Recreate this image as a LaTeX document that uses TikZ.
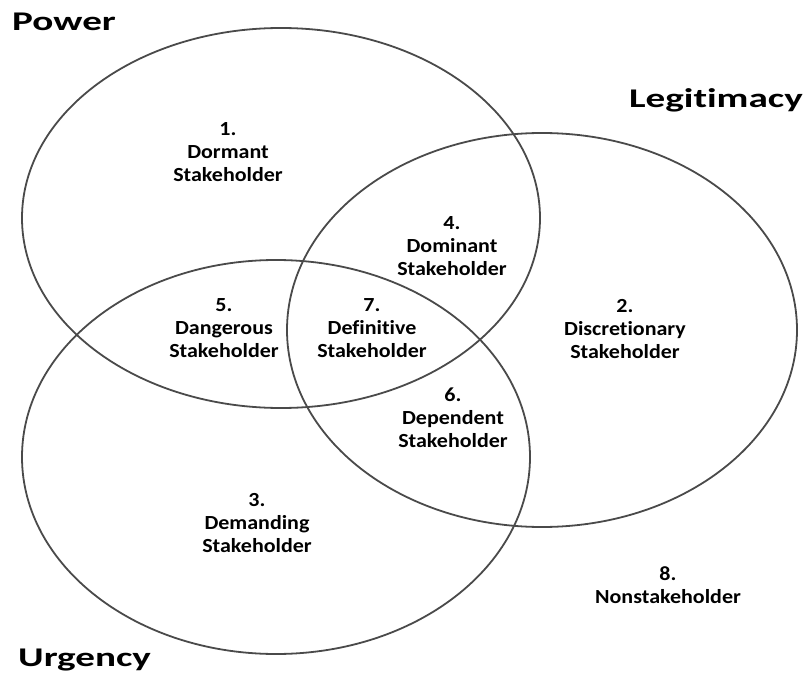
\documentclass[tikz,border=0pt]{standalone}
\usepackage{fontspec}
\setmainfont{Carlito}[FakeStretch=1.1,Ligatures=NoCommon]
\newfontfamily\headfont{Carlito}[FakeStretch=1.45,Ligatures=NoCommon]
\usetikzlibrary{positioning}
\definecolor{vennLine}{HTML}{4A4A4A}

\begin{document}
\begin{tikzpicture}[x=1pt,y=-1pt,
   zone/.style={draw=vennLine,line width=1.8pt},
   role/.style={font=\fontsize{20}{23}\selectfont\bfseries,align=center,inner sep=0pt},
   head/.style={font=\headfont\fontsize{27}{30}\selectfont\bfseries,inner sep=0pt}]
  \useasboundingbox (0,0) rectangle (809,677);
  % the three attributes
  \draw[zone] (281,218) ellipse [x radius=259,y radius=190];
  \draw[zone] (542,330) ellipse [x radius=255,y radius=197];
  \draw[zone] (276,457) ellipse [x radius=254,y radius=197];
  \node[head,anchor=west] (power) at (12,22) {Power};
  \node[head,anchor=east] (legit) at (803,100) {Legitimacy};
  \node[head,anchor=west] (urgency) at (18,660) {Urgency};
  % stakeholder classes
  \node[role] (dormant) at (228,152) {1.\\Dormant\\Stakeholder};
  \node[role] (discretionary) at (625,329) {2.\\Discretionary\\Stakeholder};
  \node[role] (demanding) at (257,523) {3.\\Demanding\\Stakeholder};
  \node[role] (dominant) at (452,246) {4.\\Dominant\\Stakeholder};
  \node[role] (dangerous) at (224,328) {5.\\Dangerous\\Stakeholder};
  \node[role] (dependent) at (453,418) {6.\\Dependent\\Stakeholder};
  \node[role] (definitive) at (372,328) {7.\\Definitive\\Stakeholder};
  \node[role] (nonstake) at (668,585) {8.\\Nonstakeholder};
\end{tikzpicture}
\end{document}
